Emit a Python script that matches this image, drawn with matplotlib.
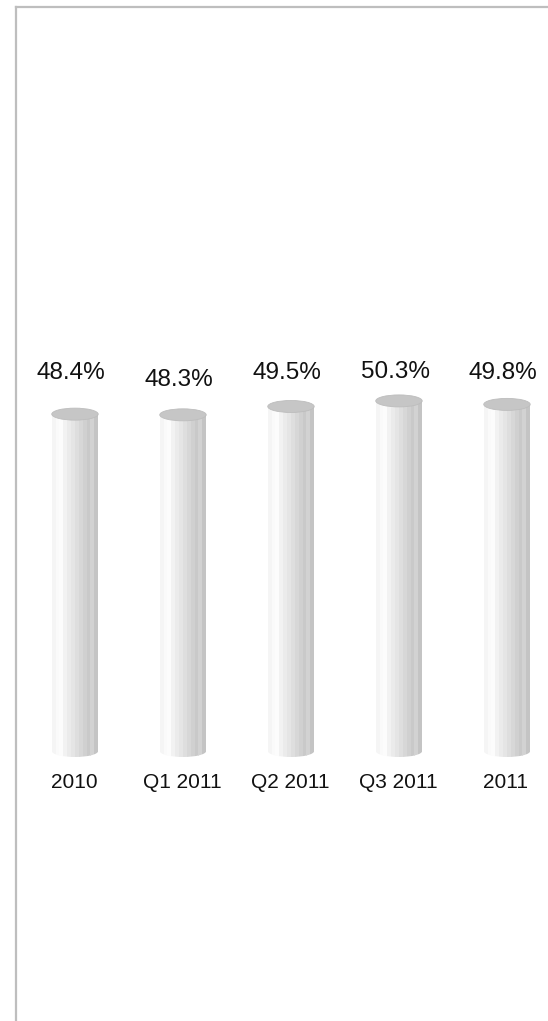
import numpy as np
import matplotlib.pyplot as plt
from matplotlib.patches import Ellipse
from matplotlib.lines import Line2D

plt.rcParams['font.family'] = ['Liberation Sans', 'DejaVu Sans']

categories = ["2010", "Q1 2011", "Q2 2011", "Q3 2011", "2011"]
values = [48.4, 48.3, 49.5, 50.3, 49.8]
labels = ["48.4%", "48.3%", "49.5%", "50.3%", "49.8%"]

W, H = 548, 1021
fig = plt.figure(figsize=(W / 100, H / 100), dpi=100)

# chart-area border (top and left only are visible)
fig.add_artist(Line2D([15.5 / W, 15.5 / W], [0, 1 - 7.5 / H], color="#BEBEBE", lw=1.6))
fig.add_artist(Line2D([15.5 / W, 1], [1 - 7.5 / H, 1 - 7.5 / H], color="#BEBEBE", lw=1.6))

base_px = 751      # baseline pixel (from top)
px_per_unit = 6.96
ax_bottom = H - base_px
ax_h = base_px - 9
ax = fig.add_axes([16 / W, ax_bottom / H, 532 / W, ax_h / H])
ax.set_xlim(-0.546, -0.546 + 532 / 108)
ax.set_ylim(0, ax_h / px_per_unit)
ax.axis("off")

width = 0.43
ell_h = 12 / px_per_unit
# stripes: light on the left, darker on the right
stripe_cols = ["#F5F5F5", "#FAFAFA", "#FCFCFC", "#F2F2F2", "#EBEBEB", "#E5E5E5",
               "#DEDEDE", "#D7D7D7", "#D0D0D0", "#C9C9C9", "#D2D2D2", "#C4C4C4"]
n = len(stripe_cols)
x = np.arange(len(categories))

for xi, v in zip(x, values):
    sw = width / n
    for k, c in enumerate(stripe_cols):
        ax.bar(xi - width / 2 + (k + 0.5) * sw, v, width=sw * 1.02, color=c,
               edgecolor="none", zorder=2)
    # rounded bottom
    for k, c in enumerate(stripe_cols):
        e = Ellipse((xi, 0), width, ell_h, facecolor=c, edgecolor="none", zorder=1)
        ax.add_patch(e)
        clip = plt.Rectangle((xi - width / 2 + k * sw, -ell_h), sw * 1.02, ell_h,
                             transform=ax.transData)
        e.set_clip_path(clip)
    ax.add_patch(Ellipse((xi, v), width, ell_h, angle=0, facecolor="#C6C6C6",
                         edgecolor="#BDBDBD", lw=0.6, zorder=3))

label_off = [5.9, 5.0, 4.8, 4.15, 4.5]
for xi, v, lab, off in zip(x, values, labels, label_off):
    ax.text(xi - 0.035, v + off, lab, ha="center", va="center", fontsize=17.5,
            color="#111111")

for xi, c in zip(x, categories):
    ax.text(xi - 0.01, -31.5 / px_per_unit, c, ha="center", va="center", fontsize=15,
            color="#111111")

fig.savefig("out.png", dpi=100)
